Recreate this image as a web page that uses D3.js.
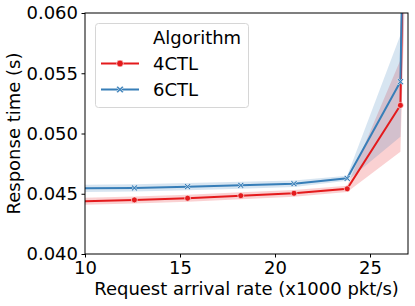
<!DOCTYPE html>
<html>
<head>
<meta charset="utf-8">
<script src="https://cdn.jsdelivr.net/npm/d3@7"></script>
<style>
  body { margin: 0; background: #fff; }
  svg { font-family: "DejaVu Sans", sans-serif; }
</style>
</head>
<body>
<svg id="chart" width="415" height="306"></svg>
<script>
// arrival rate (x1000 pkt/s)
var rates = [9.8, 12.6, 15.4, 18.2, 21.0, 23.8, 26.6, 29.4];

var ctl4Mean = [0.04437, 0.04449, 0.04463, 0.04484, 0.04504, 0.04541, 0.05234, 0.30];
var ctl4Low  = [0.04407, 0.04420, 0.04434, 0.04455, 0.04476, 0.04515, 0.04849, 0.20];
var ctl4High = [0.04467, 0.04478, 0.04492, 0.04513, 0.04532, 0.04567, 0.05610, 0.40];

var ctl6Mean = [0.04545, 0.04548, 0.04559, 0.04570, 0.04583, 0.04628, 0.05430, 0.30];
var ctl6Low  = [0.04515, 0.04518, 0.04529, 0.04541, 0.04555, 0.04608, 0.04973, 0.20];
var ctl6High = [0.04575, 0.04578, 0.04589, 0.04599, 0.04611, 0.04650, 0.05817, 0.40];

var xTicks = [10, 15, 20, 25];
var yTicks = [0.040, 0.045, 0.050, 0.055, 0.060];

var series = [
  { name: '4CTL', color: '#e41a1c', mean: ctl4Mean, lo: ctl4Low, hi: ctl4High, marker: 'o' },
  { name: '6CTL', color: '#377eb8', mean: ctl6Mean, lo: ctl6Low, hi: ctl6High, marker: 'x' }
];

var svg = d3.select('#chart'),
    margin = { top: 13, right: 7, bottom: 52, left: 85 },
    width = 415 - margin.left - margin.right,
    height = 306 - margin.top - margin.bottom;

var x = d3.scaleLinear().domain([10, 27]).range([0, width]);
var y = d3.scaleLinear().domain([0.040, 0.060]).range([height, 0]);

var g = svg.append('g')
    .attr('transform', 'translate(' + margin.left + ',' + margin.top + ')');

svg.append('defs').append('clipPath')
    .attr('id', 'plot-clip')
  .append('rect')
    .attr('width', width)
    .attr('height', height);

var plot = g.append('g').attr('clip-path', 'url(#plot-clip)');

var area = d3.area()
    .x(function(d) { return x(d.r); })
    .y0(function(d) { return y(d.lo); })
    .y1(function(d) { return y(d.hi); });

var line = d3.line()
    .x(function(d) { return x(d.r); })
    .y(function(d) { return y(d.v); });

function xPath(s) {
  var a = s * 0.35, b = s;
  return 'M' + (-b) + ',' + (-b + a) + 'L' + (-a) + ',' + 0 + 'L' + (-b) + ',' + (b - a) +
         'L' + (-b + a) + ',' + b + 'L0,' + a + 'L' + (b - a) + ',' + b +
         'L' + b + ',' + (b - a) + 'L' + a + ',0L' + b + ',' + (-b + a) +
         'L' + (b - a) + ',' + (-b) + 'L0,' + (-a) + 'L' + (-b + a) + ',' + (-b) + 'Z';
}

function rows(s) {
  return rates.map(function(r, i) {
    return { r: r, v: s.mean[i], lo: s.lo[i], hi: s.hi[i] };
  });
}

series.forEach(function(s) {
  plot.append('path')
      .datum(rows(s))
      .attr('d', area)
      .style('fill', s.color)
      .style('fill-opacity', 0.2)
      .style('stroke', 'none');
});

series.forEach(function(s) {
  var data = rows(s);
  plot.append('path')
      .datum(data)
      .attr('d', line)
      .style('fill', 'none')
      .style('stroke', s.color)
      .style('stroke-width', '2px');

  var pts = plot.selectAll('.pt-' + s.marker)
      .data(data)
    .enter().append('path')
      .attr('transform', function(d) { return 'translate(' + x(d.r) + ',' + y(d.v) + ')'; })
      .style('fill', s.color)
      .style('stroke', '#fff')
      .style('stroke-width', '0.6px');

  if (s.marker === 'o') pts.attr('d', d3.symbol().type(d3.symbolCircle).size(28));
  else pts.attr('d', xPath(3.2));
});

// axes
var xAxis = g.append('g')
    .attr('transform', 'translate(0,' + height + ')')
    .call(d3.axisBottom(x).tickValues(xTicks).tickSize(3.5).tickPadding(3.5));

var yAxis = g.append('g')
    .call(d3.axisLeft(y).tickValues(yTicks).tickSize(3.5).tickPadding(3.5)
      .tickFormat(d3.format('.3f')));

[xAxis, yAxis].forEach(function(a) {
  a.select('.domain').remove();
  a.selectAll('line').style('stroke', '#000').style('stroke-width', '1px');
  a.selectAll('text').style('font-size', '18px').style('fill', '#000')
      .style('font-family', '"DejaVu Sans", sans-serif');
});

g.append('rect')
    .attr('width', width)
    .attr('height', height)
    .style('fill', 'none')
    .style('stroke', '#000')
    .style('stroke-width', '1px');

svg.append('text')
    .attr('x', margin.left + width / 2)
    .attr('y', 295)
    .attr('text-anchor', 'middle')
    .style('font-size', '18px')
    .text('Request arrival rate (x1000 pkt/s)');

svg.append('text')
    .attr('transform', 'translate(20,' + (margin.top + height / 2) + ') rotate(-90)')
    .attr('text-anchor', 'middle')
    .style('font-size', '18px')
    .text('Response time (s)');

// legend
var legend = svg.append('g');

legend.append('rect')
    .attr('x', 95.5)
    .attr('y', 23.5)
    .attr('width', 153)
    .attr('height', 84)
    .attr('rx', 3)
    .style('fill', '#fff')
    .style('fill-opacity', 0.8)
    .style('stroke', '#d6d6d6')
    .style('stroke-width', '1px');

legend.append('text')
    .attr('x', 153)
    .attr('y', 44)
    .style('font-size', '18px')
    .text('Algorithm');

series.forEach(function(s, i) {
  var ly = 63.5 + i * 26;
  legend.append('line')
      .attr('x1', 101).attr('x2', 139)
      .attr('y1', ly).attr('y2', ly)
      .style('stroke', s.color)
      .style('stroke-width', '2px');
  var m = legend.append('path')
      .attr('transform', 'translate(120,' + ly + ')')
      .style('fill', s.color)
      .style('stroke', '#fff')
      .style('stroke-width', '0.6px');
  if (s.marker === 'o') m.attr('d', d3.symbol().type(d3.symbolCircle).size(36));
  else m.attr('d', xPath(3.6));
  legend.append('text')
      .attr('x', 153)
      .attr('y', ly + 6.5)
      .style('font-size', '18px')
      .text(s.name);
});
</script>
</body>
</html>
